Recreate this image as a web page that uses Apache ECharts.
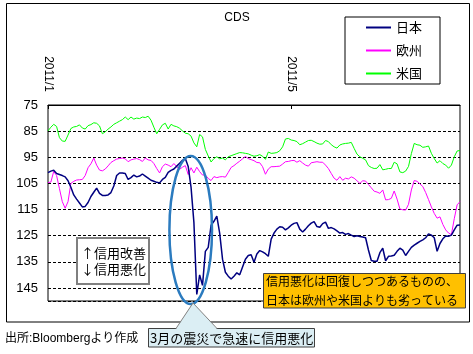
<!DOCTYPE html>
<html>
<head>
<meta charset="utf-8">
<script src="https://cdn.jsdelivr.net/npm/echarts@6/dist/echarts.min.js"></script>
<style>
  html, body { margin: 0; padding: 0; background: #fff; }
  #chart { width: 473px; height: 354px; }
</style>
</head>
<body>
<div id="chart"></div>
<script>
// CDS daily values, business days from 2011/1/3
const seriesNames = ['日本', '欧州', '米国'];

const japan = [
  100.9, 100.3, 100.0, 101.2, 101.6, 102.0, 102.5, 104.0, 106.5, 109.4,
  111.0, 112.5, 114.0, 113.8, 112.3, 110.0, 108.4, 106.8, 108.8, 109.6,
  109.6, 109.4, 108.5, 106.0, 102.0, 101.0, 101.0, 101.2, 103.5, 102.8,
  101.8, 102.5, 102.2, 101.4, 102.2, 103.0, 103.8, 104.2, 104.6, 104.8,
  103.5, 102.7, 100.8, 100.0, 99.5, 98.4, 97.3, 96.2, 95.5, 98.5,
  106.5, 120.0, 147.5, 140.0, 144.0, 131.0, 129.5, 121.0, 119.5, 117.5,
  124.0, 134.0, 139.0, 140.5, 141.6, 140.5, 139.2, 140.0, 137.0, 134.0,
  132.6, 132.3, 135.2, 132.0, 130.7, 131.2, 131.9, 132.9, 126.3, 124.0,
  122.5, 121.6, 121.8, 122.8, 122.0, 121.0, 120.3, 120.0, 122.5, 123.6,
  122.5, 121.2, 120.2, 119.6, 121.5, 121.8, 120.4, 119.8, 122.2, 121.9,
  122.4, 123.2, 124.0, 123.8, 124.5, 124.2, 124.8, 125.3, 125.0, 125.3,
  125.5, 125.8, 130.5, 134.5, 134.8, 134.8, 131.5, 129.8, 134.6, 132.9,
  132.8, 132.5, 131.0, 129.8, 130.5, 132.6, 131.0, 129.5, 128.6, 127.9,
  127.2, 126.6, 125.8, 124.3, 124.8, 125.8, 131.0, 128.0, 126.2, 125.1,
  125.2, 124.8, 122.8, 121.0, 120.9
];

const europe = [
  104.7, 104.5, 100.4, 102.0, 107.0, 112.0, 114.5, 112.0, 105.0, 104.2,
  103.7, 103.6, 103.5, 102.0, 99.0, 97.5, 95.3, 98.0, 99.9, 100.2,
  99.5, 98.3, 97.0, 96.3, 95.7, 95.5, 95.3, 95.6, 96.7, 96.0,
  95.7, 95.5, 95.9, 96.6, 95.3, 96.0, 96.2, 97.4, 99.3, 101.0,
  98.6, 97.6, 98.0, 98.6, 97.4, 98.6, 99.6, 98.8, 98.2, 101.6,
  99.0, 101.0, 98.8, 100.5, 101.8, 101.8, 103.1, 103.9, 102.4, 102.8,
  102.5, 102.4, 102.6, 100.8, 98.9, 98.2, 97.3, 96.5, 95.6, 94.7,
  95.5, 95.9, 96.3, 97.0, 97.1, 98.6, 101.5, 99.5, 98.6, 98.6,
  98.5, 98.4, 97.6, 96.7, 96.6, 96.3, 96.2, 96.9, 96.3, 97.2,
  98.0, 98.4, 97.1, 96.9, 96.7, 96.9, 96.9, 98.0, 99.3, 101.2,
  103.0, 103.8, 102.4, 103.8, 103.0, 103.3, 102.5, 103.0, 104.0, 105.0,
  104.0, 104.1, 105.4, 106.7, 108.0, 108.3, 108.8, 107.5, 111.3, 111.2,
  110.7, 107.9, 111.0, 114.8, 115.1, 115.2, 113.0, 107.5, 103.9, 104.2,
  105.2, 106.2, 108.5, 111.2, 114.0, 116.5, 118.3, 117.8, 120.7, 122.8,
  124.0, 124.6, 118.5, 113.2, 112.0
];

const us = [
  84.9, 83.5, 82.4, 83.2, 87.5, 88.8, 88.9, 86.5, 84.0, 83.4,
  83.2, 82.6, 83.8, 84.2, 82.9, 82.5, 81.8, 82.0, 83.0, 86.0,
  85.3, 84.2, 83.4, 82.4, 81.8, 81.2, 80.6, 79.6, 80.6, 79.6,
  80.4, 80.0, 80.2, 79.6, 79.8, 79.3, 80.8, 83.5, 86.0, 84.3,
  82.6, 82.0, 84.2, 82.4, 83.0, 83.3, 83.9, 84.9, 85.8, 86.0,
  86.9, 89.5, 91.0, 86.3, 87.2, 92.0, 94.5, 96.8, 95.5, 94.8,
  95.6, 95.3, 96.0, 94.8, 94.4, 94.0, 93.6, 93.2, 93.3, 93.5,
  93.7, 94.2, 94.6, 94.4, 94.0, 94.6, 95.8, 93.0, 93.5, 93.4,
  93.2, 92.5, 91.0, 88.0, 87.8, 88.4, 88.6, 89.0, 90.2, 89.8,
  89.2, 88.6, 88.5, 89.0, 89.6, 90.0, 89.9, 88.6, 89.0, 90.2,
  91.0, 91.5, 90.3, 89.9, 89.7, 89.6, 89.3, 91.6, 93.8, 94.8,
  95.4, 96.0, 98.2, 98.9, 99.3, 99.2, 97.8, 99.8, 99.6, 99.3,
  99.3, 96.9, 97.5, 100.6, 100.9, 100.3, 98.5, 93.6, 89.7, 90.2,
  90.4, 91.2, 91.0, 90.7, 93.5, 95.5, 97.2, 96.3, 97.4, 98.0,
  99.2, 98.0, 94.8, 92.6, 92.4
];

const xTickLabels = ['2011/1', '2011/5'];
const yMin = 75, yMax = 150, yStep = 10;

// business-day categories
const categories = [];
for (let d = new Date(2011, 0, 3); categories.length < japan.length; d.setDate(d.getDate() + 1)) {
  const wd = d.getDay();
  if (wd === 0 || wd === 6) continue;
  categories.push(d.getFullYear() + '/' + (d.getMonth() + 1) + '/' + d.getDate());
}

const monthOf = c => c.split('/').slice(0, 2).join('/');
const isTick = (i, v) =>
  xTickLabels.includes(monthOf(v)) && (i === 0 || monthOf(categories[i - 1]) !== monthOf(v));

const latin = "'Liberation Sans', 'Noto Sans CJK JP', sans-serif";
const jp = "'Noto Sans CJK JP', sans-serif";

const chart = echarts.init(document.getElementById('chart'));

chart.setOption({
  animation: false,
  textStyle: { fontFamily: latin, color: '#000' },
  grid: {
    left: 48, top: 105, right: 13, bottom: 53,
    show: true, borderColor: '#000', borderWidth: 1, backgroundColor: 'transparent'
  },
  legend: {
    orient: 'vertical',
    left: 345, top: 17,
    padding: [4, 18, 4, 20],
    itemGap: 10, itemWidth: 25, itemHeight: 14,
    borderColor: '#000', borderWidth: 1, backgroundColor: '#fff',
    itemStyle: { opacity: 0 },
    textStyle: { fontSize: 13, color: '#000', fontFamily: jp },
    data: seriesNames
  },
  xAxis: {
    type: 'category',
    position: 'top',
    boundaryGap: false,
    data: categories,
    axisLine: { show: true, lineStyle: { color: '#000' } },
    axisTick: { show: true, inside: true, length: 4, interval: isTick, lineStyle: { color: '#000' } },
    axisLabel: {
      interval: isTick, rotate: 90, margin: 13,
      fontSize: 12, color: '#000', fontFamily: latin,
      formatter: v => monthOf(v)
    },
    splitLine: { show: false }
  },
  yAxis: {
    type: 'value',
    inverse: true,
    min: yMin, max: yMax, interval: yStep,
    axisLine: { show: false },
    axisTick: { show: false },
    axisLabel: { fontSize: 13, color: '#000', margin: 10, showMaxLabel: false, fontFamily: latin },
    splitLine: { show: true, lineStyle: { color: '#000', type: [3, 2], width: 1 } }
  },
  series: [
    { name: seriesNames[0], type: 'line', data: japan, symbol: 'none', lineStyle: { color: '#000080', width: 1.5 }, itemStyle: { color: '#000080' }, z: 4 },
    { name: seriesNames[1], type: 'line', data: europe, symbol: 'none', lineStyle: { color: '#ff00ff', width: 1 }, itemStyle: { color: '#ff00ff' }, z: 3 },
    { name: seriesNames[2], type: 'line', data: us, symbol: 'none', lineStyle: { color: '#00ff00', width: 1 }, itemStyle: { color: '#00ff00' }, z: 2 }
  ],
  graphic: [
    { type: 'rect', z: 50, shape: { x: 6.5, y: 3.5, width: 463, height: 318.5 }, style: { fill: 'none', stroke: '#000', lineWidth: 1 } },
    { type: 'text', z: 50, style: { text: 'CDS', x: 237, y: 18, textAlign: 'center', textVerticalAlign: 'middle', font: "12px 'Liberation Sans'", fill: '#000' } },
    { type: 'ellipse', z: 60, shape: { cx: 190.7, cy: 230, rx: 21.3, ry: 74 }, style: { fill: 'none', stroke: '#2b7bbf', lineWidth: 2.5 } },
    { type: 'rect', z: 60, shape: { x: 77, y: 238, width: 72, height: 46 }, style: { fill: '#fff', stroke: '#7f7f7f', lineWidth: 2 } },
    { type: 'text', z: 61, style: { text: '↑信用改善\n↓信用悪化', x: 81, y: 261, textVerticalAlign: 'middle', lineHeight: 16, font: "13px 'Noto Sans CJK JP'", fill: '#000' } },
    { type: 'rect', z: 60, shape: { x: 148.5, y: 328.5, width: 166, height: 18.5 }, style: { fill: '#dbeef4', stroke: '#404040', lineWidth: 1 } },
    { type: 'polygon', z: 61, shape: { points: [[176, 329], [193, 303], [217, 329]] }, style: { fill: '#dbeef4' } },
    { type: 'polyline', z: 61, shape: { points: [[176, 328.5], [193, 303], [217, 328.5]] }, style: { fill: 'none', stroke: '#7f7f7f', lineWidth: 1 } },
    { type: 'text', z: 62, style: { text: '3月の震災で急速に信用悪化', x: 150, y: 338, textVerticalAlign: 'middle', font: "13px 'Noto Sans CJK JP'", fill: '#000' } },
    { type: 'rect', z: 60, shape: { x: 263.5, y: 273.5, width: 202, height: 34.5 }, style: { fill: '#ffc000', stroke: '#3f3f3f', lineWidth: 1 } },
    { type: 'text', z: 61, style: { text: '信用悪化は回復しつつあるものの、\n日本は欧州や米国よりも劣っている', x: 266, y: 291, textVerticalAlign: 'middle', lineHeight: 19, font: "12px 'Noto Sans CJK JP'", fill: '#000' } },
    { type: 'text', z: 50, style: { text: '出所:Bloombergより作成', x: 5, y: 339, textVerticalAlign: 'middle', font: "12px 'Liberation Sans', 'Noto Sans CJK JP'", fill: '#000' } }
  ]
});
</script>
</body>
</html>
